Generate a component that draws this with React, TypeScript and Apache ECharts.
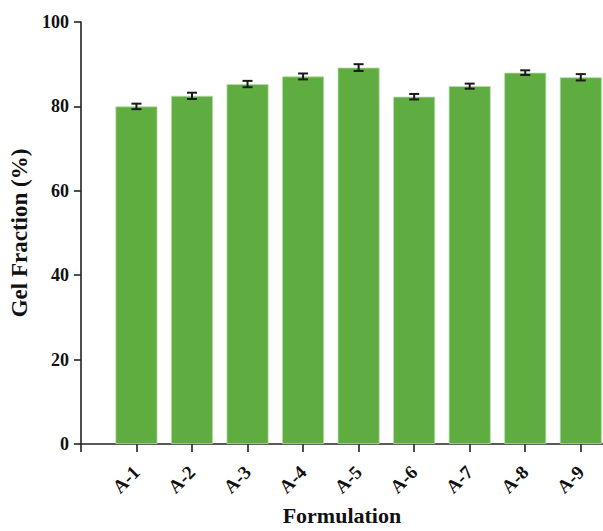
import React, { useEffect, useRef } from "react";
import * as echarts from "echarts";

const categories = ["A-1", "A-2", "A-3", "A-4", "A-5", "A-6", "A-7", "A-8", "A-9"];
const gelFraction = [80.0, 82.5, 85.3, 87.1, 89.2, 82.3, 84.8, 88.0, 86.9];
const errors = [0.65, 0.75, 0.75, 0.7, 0.8, 0.65, 0.6, 0.55, 0.75];
const yTicks = [0, 20, 40, 60, 80, 100];

const FONT = "'Liberation Serif', 'Times New Roman', serif";

export default function App() {
  const ref = useRef<HTMLDivElement>(null);
  useEffect(() => {
    if (!ref.current) return;
    const chart = echarts.init(ref.current, null, { renderer: "svg" });
    const positions = categories.map((_, i) => i + 1);
    chart.setOption({
      animation: false,
      grid: { left: 78, right: 0, top: 22, bottom: 82, containLabel: false },
      xAxis: {
        type: "value",
        min: 0,
        max: 9.4,
        interval: 1,
        name: "Formulation",
        nameLocation: "middle",
        nameGap: 60,
        nameTextStyle: { fontFamily: FONT, fontWeight: "bold", fontSize: 22, color: "#111" },
        splitLine: { show: false },
        axisLine: { lineStyle: { color: "#222", width: 1.6 } },
        axisTick: { show: true, length: 8, lineStyle: { color: "#222", width: 1.6 }, customValues: [0, ...positions] },
        axisLabel: {
          customValues: positions,
          rotate: 45,
          margin: 25,
          fontFamily: FONT,
          fontWeight: "bold",
          fontSize: 19,
          color: "#111",
          formatter: (v: number) => categories[Math.round(v) - 1] ?? "",
        },
      },
      yAxis: {
        type: "value",
        min: yTicks[0],
        max: yTicks[yTicks.length - 1],
        interval: 20,
        name: "Gel Fraction (%)",
        nameLocation: "middle",
        nameGap: 46,
        nameTextStyle: { fontFamily: FONT, fontWeight: "bold", fontSize: 23, color: "#111" },
        splitLine: { show: false },
        axisLine: { show: true, lineStyle: { color: "#222", width: 1.6 } },
        axisTick: { show: true, length: 7, lineStyle: { color: "#222", width: 1.6 } },
        axisLabel: { fontFamily: FONT, fontWeight: "bold", fontSize: 18, color: "#111", margin: 12 },
      },
      series: [
        {
          type: "bar",
          data: positions.map((x, i) => [x, gelFraction[i]]),
          barWidth: 42,
          itemStyle: { color: "#5fad41", borderColor: "#b9dcaa", borderWidth: 0.8 },
        },
        {
          type: "custom",
          data: positions.map((x, i) => [x, gelFraction[i] - errors[i], gelFraction[i] + errors[i]]),
          renderItem: (params: any, api: any) => {
            const x = api.value(0);
            const lo = api.coord([x, api.value(1)]);
            const hi = api.coord([x, api.value(2)]);
            const hw = 5;
            const style = { stroke: "#1a1a1a", lineWidth: 2 };
            return {
              type: "group",
              children: [
                { type: "line", shape: { x1: lo[0], y1: lo[1], x2: hi[0], y2: hi[1] }, style },
                { type: "line", shape: { x1: lo[0] - hw, y1: lo[1], x2: lo[0] + hw, y2: lo[1] }, style },
                { type: "line", shape: { x1: hi[0] - hw, y1: hi[1], x2: hi[0] + hw, y2: hi[1] }, style },
              ],
            };
          },
          z: 10,
        },
      ],
    });
    return () => chart.dispose();
  }, []);
  return <div ref={ref} style={{ position: "absolute", left: 0, top: 0, width: 603, height: 531 }} />;
}
